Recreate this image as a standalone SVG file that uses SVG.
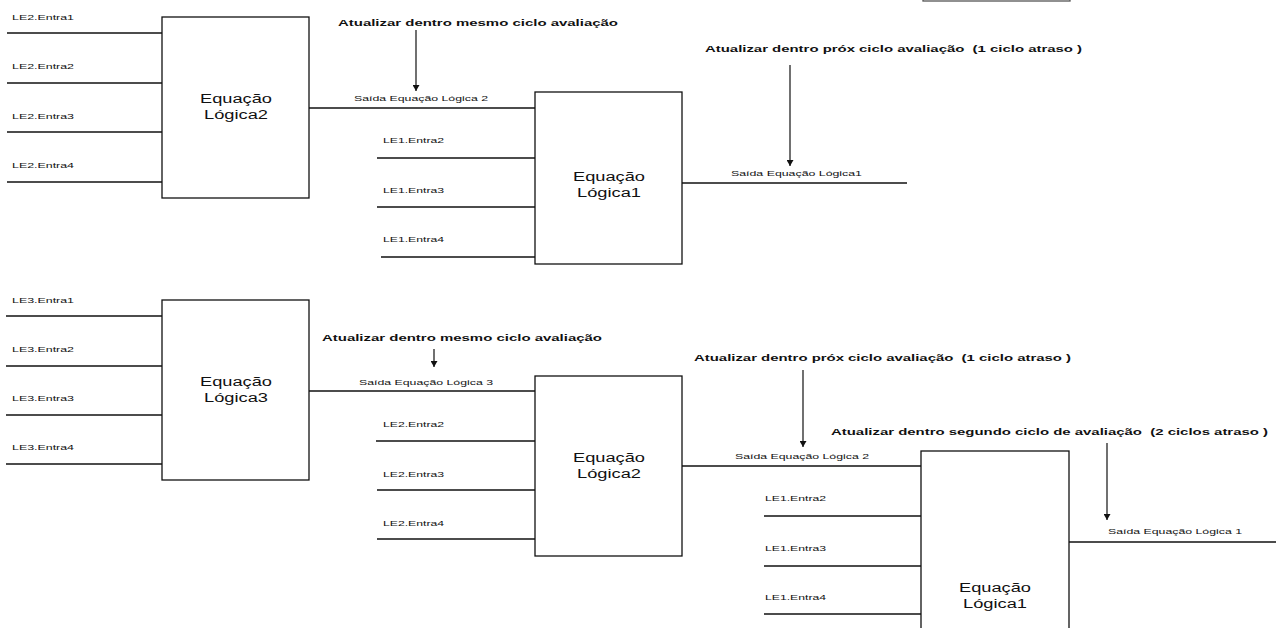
<svg xmlns="http://www.w3.org/2000/svg" width="1276" height="628" viewBox="0 0 1276 628">
<style>
.box{fill:#fff;stroke:#111;stroke-width:1.3}
.ln{stroke:#111;stroke-width:1.3;fill:none}
.ar{stroke:#111;stroke-width:1.2;fill:none;marker-end:url(#ah)}
.lbl{font-family:"Liberation Sans",Arial,sans-serif;font-size:8px;fill:#111}
.big{font-family:"Liberation Sans",Arial,sans-serif;font-size:12px;fill:#111;text-anchor:middle}
.hd{font-family:"Liberation Sans",Arial,sans-serif;font-size:9px;font-weight:bold;fill:#111;white-space:pre}
</style>
<defs>
<marker id="ah" markerWidth="8" markerHeight="7" refX="6" refY="3.5" orient="auto" markerUnits="userSpaceOnUse"><path d="M0,0 L6,3.5 L0,7 z" fill="#111"/></marker>
</defs>
<rect width="1276" height="628" fill="#fff"/>
<rect x="923" y="-10" width="147" height="11" fill="none" stroke="#555" stroke-width="1.3"/>

<g id="connectors">
<line class="ln" x1="7" y1="33" x2="162" y2="33"/>
<line class="ln" x1="7" y1="83" x2="162" y2="83"/>
<line class="ln" x1="7" y1="132" x2="162" y2="132"/>
<line class="ln" x1="7" y1="182" x2="162" y2="182"/>
<line class="ln" x1="309" y1="108" x2="535" y2="108"/>
<line class="ln" x1="377" y1="158" x2="535" y2="158"/>
<line class="ln" x1="377" y1="207" x2="535" y2="207"/>
<line class="ln" x1="381" y1="257" x2="535" y2="257"/>
<line class="ln" x1="682" y1="183" x2="907" y2="183"/>
<line class="ar" x1="416" y1="30" x2="416" y2="91"/>
<line class="ar" x1="790" y1="65" x2="790" y2="166"/>
<line class="ln" x1="6" y1="316" x2="162" y2="316"/>
<line class="ln" x1="6" y1="366" x2="162" y2="366"/>
<line class="ln" x1="6" y1="415" x2="162" y2="415"/>
<line class="ln" x1="6" y1="464" x2="162" y2="464"/>
<line class="ln" x1="309" y1="391" x2="535" y2="391"/>
<line class="ln" x1="376" y1="441" x2="535" y2="441"/>
<line class="ln" x1="377" y1="490" x2="535" y2="490"/>
<line class="ln" x1="377" y1="539" x2="535" y2="539"/>
<line class="ln" x1="682" y1="466" x2="921" y2="466"/>
<line class="ln" x1="764" y1="516" x2="921" y2="516"/>
<line class="ln" x1="764" y1="566" x2="921" y2="566"/>
<line class="ln" x1="764" y1="614" x2="921" y2="614"/>
<line class="ln" x1="1069" y1="542" x2="1276" y2="542"/>
<line class="ar" x1="434" y1="349" x2="434" y2="367"/>
<line class="ar" x1="803" y1="370" x2="803" y2="447"/>
<line class="ar" x1="1107" y1="443" x2="1107" y2="520"/>
</g>

<g id="labels">
<text class="lbl" x="12" y="20" textLength="62" lengthAdjust="spacingAndGlyphs">LE2.Entra1</text>
<text class="lbl" x="12" y="69" textLength="62" lengthAdjust="spacingAndGlyphs">LE2.Entra2</text>
<text class="lbl" x="12" y="119" textLength="62" lengthAdjust="spacingAndGlyphs">LE2.Entra3</text>
<text class="lbl" x="12" y="168" textLength="62" lengthAdjust="spacingAndGlyphs">LE2.Entra4</text>
<text class="lbl" x="354" y="101" textLength="134" lengthAdjust="spacingAndGlyphs">Saída Equação Lógica 2</text>
<text class="lbl" x="383" y="143" textLength="61" lengthAdjust="spacingAndGlyphs">LE1.Entra2</text>
<text class="lbl" x="383" y="193" textLength="61" lengthAdjust="spacingAndGlyphs">LE1.Entra3</text>
<text class="lbl" x="383" y="242" textLength="61" lengthAdjust="spacingAndGlyphs">LE1.Entra4</text>
<text class="lbl" x="731" y="176" textLength="131" lengthAdjust="spacingAndGlyphs">Saída Equação Lógica1</text>
<text class="hd" x="338" y="26" textLength="280" lengthAdjust="spacingAndGlyphs">Atualizar dentro mesmo ciclo avaliação</text>
<text class="hd" x="705" y="52" textLength="377" lengthAdjust="spacingAndGlyphs" xml:space="preserve">Atualizar dentro próx ciclo avaliação  (1 ciclo atraso )</text>

<text class="lbl" x="12" y="303" textLength="62" lengthAdjust="spacingAndGlyphs">LE3.Entra1</text>
<text class="lbl" x="12" y="352" textLength="62" lengthAdjust="spacingAndGlyphs">LE3.Entra2</text>
<text class="lbl" x="12" y="401" textLength="62" lengthAdjust="spacingAndGlyphs">LE3.Entra3</text>
<text class="lbl" x="12" y="450" textLength="62" lengthAdjust="spacingAndGlyphs">LE3.Entra4</text>
<text class="lbl" x="359" y="385" textLength="134" lengthAdjust="spacingAndGlyphs">Saída Equação Lógica 3</text>
<text class="lbl" x="383" y="427" textLength="61" lengthAdjust="spacingAndGlyphs">LE2.Entra2</text>
<text class="lbl" x="383" y="477" textLength="61" lengthAdjust="spacingAndGlyphs">LE2.Entra3</text>
<text class="lbl" x="383" y="526" textLength="61" lengthAdjust="spacingAndGlyphs">LE2.Entra4</text>
<text class="lbl" x="735" y="459" textLength="134" lengthAdjust="spacingAndGlyphs">Saída Equação Lógica 2</text>
<text class="lbl" x="765" y="501" textLength="61" lengthAdjust="spacingAndGlyphs">LE1.Entra2</text>
<text class="lbl" x="765" y="551" textLength="61" lengthAdjust="spacingAndGlyphs">LE1.Entra3</text>
<text class="lbl" x="765" y="600" textLength="61" lengthAdjust="spacingAndGlyphs">LE1.Entra4</text>
<text class="lbl" x="1108" y="534" textLength="134" lengthAdjust="spacingAndGlyphs">Saída Equação Lógica 1</text>
<text class="hd" x="322" y="341" textLength="280" lengthAdjust="spacingAndGlyphs">Atualizar dentro mesmo ciclo avaliação</text>
<text class="hd" x="694" y="361" textLength="377" lengthAdjust="spacingAndGlyphs" xml:space="preserve">Atualizar dentro próx ciclo avaliação  (1 ciclo atraso )</text>
<text class="hd" x="831" y="435" textLength="437" lengthAdjust="spacingAndGlyphs" xml:space="preserve">Atualizar dentro segundo ciclo de avaliação  (2 ciclos atraso )</text>
</g>

<g id="top-logica2">
<rect class="box" x="162" y="17" width="147" height="181"/>
<text class="big" x="236" y="103" textLength="72" lengthAdjust="spacingAndGlyphs">Equação</text>
<text class="big" x="236" y="119" textLength="64" lengthAdjust="spacingAndGlyphs">Lógica2</text>
</g>
<g id="top-logica1">
<rect class="box" x="535" y="92" width="147" height="172"/>
<text class="big" x="609" y="181" textLength="72" lengthAdjust="spacingAndGlyphs">Equação</text>
<text class="big" x="609" y="197" textLength="64" lengthAdjust="spacingAndGlyphs">Lógica1</text>
</g>
<g id="bottom-logica3">
<rect class="box" x="162" y="300" width="147" height="180"/>
<text class="big" x="236" y="386" textLength="72" lengthAdjust="spacingAndGlyphs">Equação</text>
<text class="big" x="236" y="402" textLength="64" lengthAdjust="spacingAndGlyphs">Lógica3</text>
</g>
<g id="bottom-logica2">
<rect class="box" x="535" y="376" width="147" height="180"/>
<text class="big" x="609" y="462" textLength="72" lengthAdjust="spacingAndGlyphs">Equação</text>
<text class="big" x="609" y="478" textLength="64" lengthAdjust="spacingAndGlyphs">Lógica2</text>
</g>
<g id="bottom-logica1">
<rect class="box" x="921" y="451" width="148" height="200"/>
<text class="big" x="995" y="592" textLength="72" lengthAdjust="spacingAndGlyphs">Equação</text>
<text class="big" x="995" y="608" textLength="64" lengthAdjust="spacingAndGlyphs">Lógica1</text>
</g>
</svg>
